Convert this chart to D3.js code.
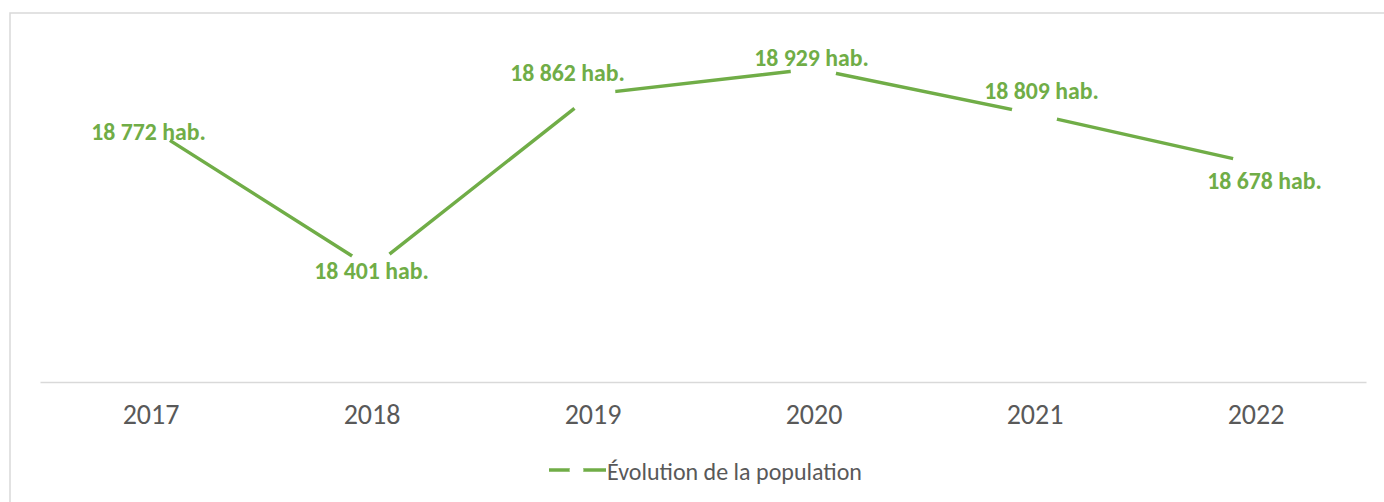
<!DOCTYPE html>
<html>
<head>
<meta charset="utf-8">
<script src="https://cdn.jsdelivr.net/npm/d3@7"></script>
<style>
  body { margin: 0; background: #fff; }
  text { font-family: Carlito, Calibri, Lato, sans-serif; }
</style>
</head>
<body>
<div id="chart"></div>
<script>
const years = ["2017", "2018", "2019", "2020", "2021", "2022"];
const population = [18772, 18401, 18862, 18929, 18809, 18678];
const seriesName = "Évolution de la population";

// label offsets from their point (manual placement, as in the source)
const labelOffset = [[-2, 3], [0, 2], [-25, -22], [-2, -11], [7, -24], [9, 17]];

const width = 1384;
const height = 502;
const green = "#70AD47";

const svg = d3.select("#chart")
  .append("svg")
  .attr("width", width)
  .attr("height", height);

// chart border
svg.append("rect")
  .attr("x", 10).attr("y", 13)
  .attr("width", 1400).attr("height", 520)
  .attr("fill", "none")
  .attr("stroke", "#d9d9d9")
  .attr("stroke-width", 1.5);

const xScale = d3.scalePoint()
  .domain(years)
  .range([40, 1366])
  .padding(0.5);

const yScale = d3.scaleLinear()
  .domain([18100, 19000])
  .range([382, 42]);

// x axis
const xAxis = svg.append("g")
  .attr("transform", "translate(0,382)")
  .call(d3.axisBottom(xScale).tickSize(0));
xAxis.select(".domain").attr("stroke", "#d9d9d9").attr("stroke-width", 1.5);
xAxis.selectAll("text")
  .attr("fill", "#595959")
  .style("font-size", "28px")
  .attr("dy", 0)
  .attr("y", 42);

const pts = years.map((y, i) => ({ year: y, value: population[i], off: labelOffset[i] }));

const line = d3.line()
  .x(d => xScale(d.year))
  .y(d => yScale(d.value));

svg.append("path")
  .datum(pts)
  .attr("d", line)
  .attr("fill", "none")
  .attr("stroke", green)
  .attr("stroke-width", 3.5);

// white markers make the gaps around each point
svg.selectAll("circle.marker")
  .data(pts)
  .enter()
  .append("circle")
  .attr("class", "marker")
  .attr("cx", d => xScale(d.year))
  .attr("cy", d => yScale(d.value))
  .attr("r", 23)
  .attr("fill", "#fff");

const fmt = v => d3.format(",")(v).replace(",", " ") + " hab.";

svg.selectAll("text.label")
  .data(pts)
  .enter()
  .append("text")
  .attr("class", "label")
  .attr("x", d => xScale(d.year) + d.off[0])
  .attr("y", d => yScale(d.value) + d.off[1])
  .attr("text-anchor", "middle")
  .attr("dominant-baseline", "central")
  .attr("fill", green)
  .style("font-size", "23.8px")
  .style("font-weight", "bold")
  .text(d => fmt(d.value));

// legend
const legend = svg.append("g").attr("transform", "translate(549,470)");
legend.append("line")
  .attr("x1", 0).attr("x2", 57)
  .attr("y1", 0).attr("y2", 0)
  .attr("stroke", green)
  .attr("stroke-width", 3.5);
legend.append("circle")
  .attr("cx", 27.5).attr("cy", 0)
  .attr("r", 7)
  .attr("fill", "#fff");
legend.append("text")
  .attr("x", 58).attr("y", 1)
  .attr("dominant-baseline", "central")
  .attr("fill", "#595959")
  .style("font-size", "24px")
  .text(seriesName);
</script>
</body>
</html>
